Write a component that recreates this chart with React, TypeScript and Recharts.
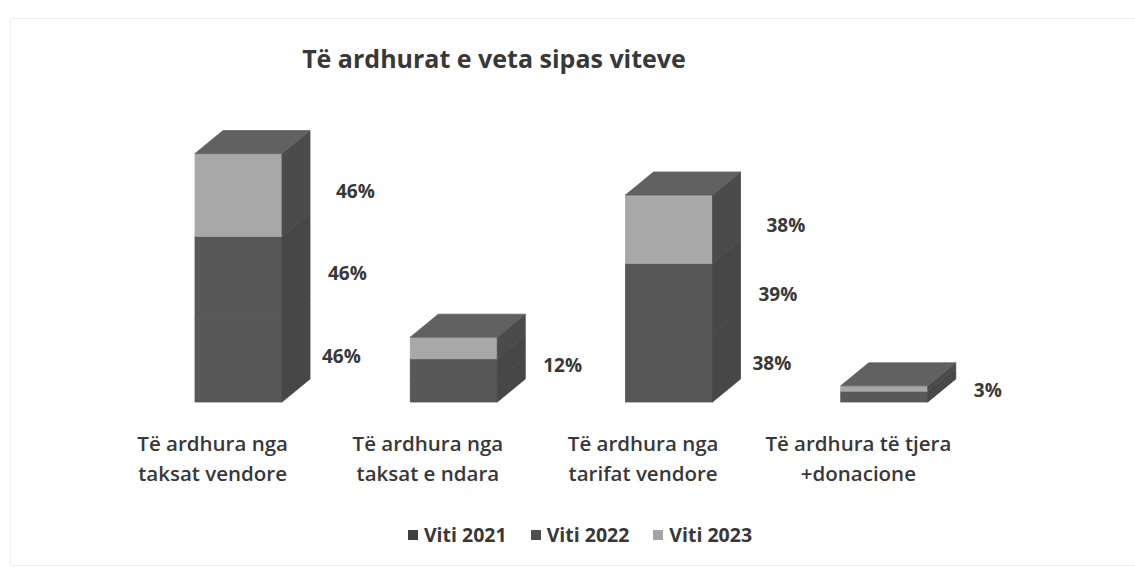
import { BarChart, Bar, XAxis, YAxis, Legend, LabelList } from "recharts";

// categories + values (percent)
const categories = [
  "Të ardhura nga\ntaksat vendore",
  "Të ardhura nga\ntaksat e ndara",
  "Të ardhura nga\ntarifat vendore",
  "Të ardhura të tjera\n+donacione",
];
const viti2021 = [46, 12, 38, 3];
const viti2022 = [46, 12, 39, 3];
const viti2023 = [46, 12, 38, 3];

const series = [
  { key: "v2021", name: "Viti 2021", values: viti2021, front: "#585858", side: "#474747", top: "#626262", legend: "#3f3f3f" },
  { key: "v2022", name: "Viti 2022", values: viti2022, front: "#585858", side: "#474747", top: "#626262", legend: "#4f4f4f" },
  { key: "v2023", name: "Viti 2023", values: viti2023, front: "#a8a8a8", side: "#4b4b4b", top: "#616161", legend: "#a3a3a3" },
];

const data = categories.map((c, i) => ({
  name: c,
  v2021: viti2021[i],
  v2022: viti2022[i],
  v2023: viti2023[i],
}));

const DX = 28;
const DY = 23;
const SHIFT = 26;
const FONT = "'Open Sans', 'Noto Sans', sans-serif";
const TEXT = "#383838";

// fake 3d box for a stacked segment, top face only on the last one
function box(front: string, side: string, top: string, withTop: boolean) {
  return (props: any) => {
    const { x, y, width: w, height: h } = props;
    if (!h || h <= 0) return <g />;
    const x0 = x + SHIFT;
    return (
      <g>
        <rect x={x0} y={y} width={w} height={h} fill={front} stroke={front} strokeWidth={0.8} />
        <polygon
          points={`${x0 + w},${y} ${x0 + w + DX},${y - DY} ${x0 + w + DX},${y + h - DY} ${x0 + w},${y + h}`}
          fill={side}
          stroke={side}
          strokeWidth={0.8}
        />
        {withTop && (
          <polygon
            points={`${x0},${y} ${x0 + DX},${y - DY} ${x0 + w + DX},${y - DY} ${x0 + w},${y}`}
            fill={top}
            stroke={top}
            strokeWidth={0.8}
          />
        )}
      </g>
    );
  };
}

const labelOffset: Record<string, number> = { v2021: 12, v2022: 18, v2023: 26 };

function valueLabel(key: string) {
  return (props: any) => {
    const { x, y, width, height, value } = props;
    // small bars: only one label fits (like in the original)
    if (value < 15 && key !== "v2022") return null;
    const lx = x + SHIFT + width + DX + labelOffset[key];
    const ly = y + height / 2 - 4;
    return (
      <text x={lx} y={ly} dy="0.35em" fontFamily={FONT} fontWeight={700} fontSize={19} fill={TEXT}>
        {value}%
      </text>
    );
  };
}

function CatTick(props: any) {
  const { x, y, payload } = props;
  const lines = String(payload.value).split("\n");
  return (
    <text x={x} y={y} textAnchor="middle" fontFamily={FONT} fontWeight={600} fontSize={20.5} fill={TEXT}>
      {lines.map((l, i) => (
        <tspan key={i} x={x} y={y + 41 + i * 30}>
          {l}
        </tspan>
      ))}
    </text>
  );
}

function LegendBox() {
  return (
    <div style={{ display: "flex", justifyContent: "center", gap: 24, fontFamily: FONT, fontWeight: 700, fontSize: 19.5, color: TEXT }}>
      {series.map((s) => (
        <div key={s.key} style={{ display: "flex", alignItems: "center" }}>
          <span style={{ width: 10, height: 10, background: s.legend, marginRight: 6, display: "inline-block" }} />
          {s.name}
        </div>
      ))}
    </div>
  );
}

export default function App() {
  return (
    <div style={{ position: "absolute", left: 0, top: 0, width: 1135, height: 569, background: "#fff" }}>
      <div
        style={{
          position: "absolute",
          left: 10,
          top: 18,
          width: 1130,
          height: 546,
          borderLeft: "1px solid #eeeeee",
          borderTop: "1px solid #eeeeee",
          borderBottom: "1px solid #eeeeee",
        }}
      />
      <div
        style={{
          position: "absolute",
          left: 0,
          top: 41,
          width: 988,
          textAlign: "center",
          fontFamily: FONT,
          fontWeight: 700,
          fontSize: 25,
          color: TEXT,
        }}
      >
        Të ardhurat e veta sipas viteve
      </div>
      <BarChart
        width={1135}
        height={569}
        data={data}
        margin={{ top: 132, right: 169, bottom: 87, left: 105 }}
        barSize={87}
      >
        <XAxis dataKey="name" axisLine={false} tickLine={false} height={80} interval={0} tick={<CatTick />} />
        <YAxis hide domain={[0, 150]} />
        <Legend
          verticalAlign="middle"
          align="center"
          wrapperStyle={{ top: 521, left: 0, width: 1160 }}
          content={<LegendBox />}
        />
        {series.map((s, i) => (
          <Bar
            key={s.key}
            dataKey={s.key}
            name={s.name}
            stackId="a"
            isAnimationActive={false}
            shape={box(s.front, s.side, s.top, i === series.length - 1)}
          >
            <LabelList dataKey={s.key} content={valueLabel(s.key)} />
          </Bar>
        ))}
      </BarChart>
    </div>
  );
}
